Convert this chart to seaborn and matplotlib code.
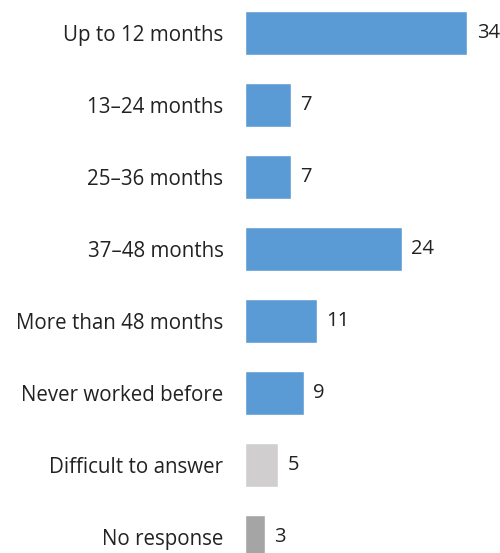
import matplotlib
matplotlib.use("Agg")
import matplotlib.pyplot as plt
import seaborn as sns
import pandas as pd

categories = [
    "Up to 12 months",
    "13\u201324 months",
    "25\u201336 months",
    "37\u201348 months",
    "More than 48 months",
    "Never worked before",
    "Difficult to answer",
    "No response",
]
values = [34, 7, 7, 24, 11, 9, 5, 3]
colors = ["#5B9BD5"] * 6 + ["#D0CECE", "#A5A5A5"]

df = pd.DataFrame({"category": categories, "value": values})

sns.set_theme(style="white")
plt.rcParams["font.family"] = ["Open Sans", "DejaVu Sans"]

fig = plt.figure(figsize=(5.0, 5.53), dpi=100)
ax = fig.add_axes([245 / 500, 0, 255 / 500, 1])

sns.barplot(
    data=df, y="category", x="value", hue="category",
    palette=colors, order=categories, hue_order=categories,
    width=0.61, legend=False, ax=ax, saturation=1,
)

ax.set_xlim(0, 255 / 6.53)
ax.set_ylim(7.222, -0.458)

for i, v in enumerate(values):
    ax.annotate(str(v), xy=(v, i), xytext=(7, 0), textcoords="offset points",
                ha="left", va="center", fontsize=14.5, color="#222222")

ax.set_xlabel("")
ax.set_ylabel("")
ax.set_xticks([])
ax.tick_params(axis="y", length=0, pad=15.5, labelsize=14.8, labelcolor="#222222")
for s in ax.spines.values():
    s.set_visible(False)

fig.savefig("out.png", dpi=100)
